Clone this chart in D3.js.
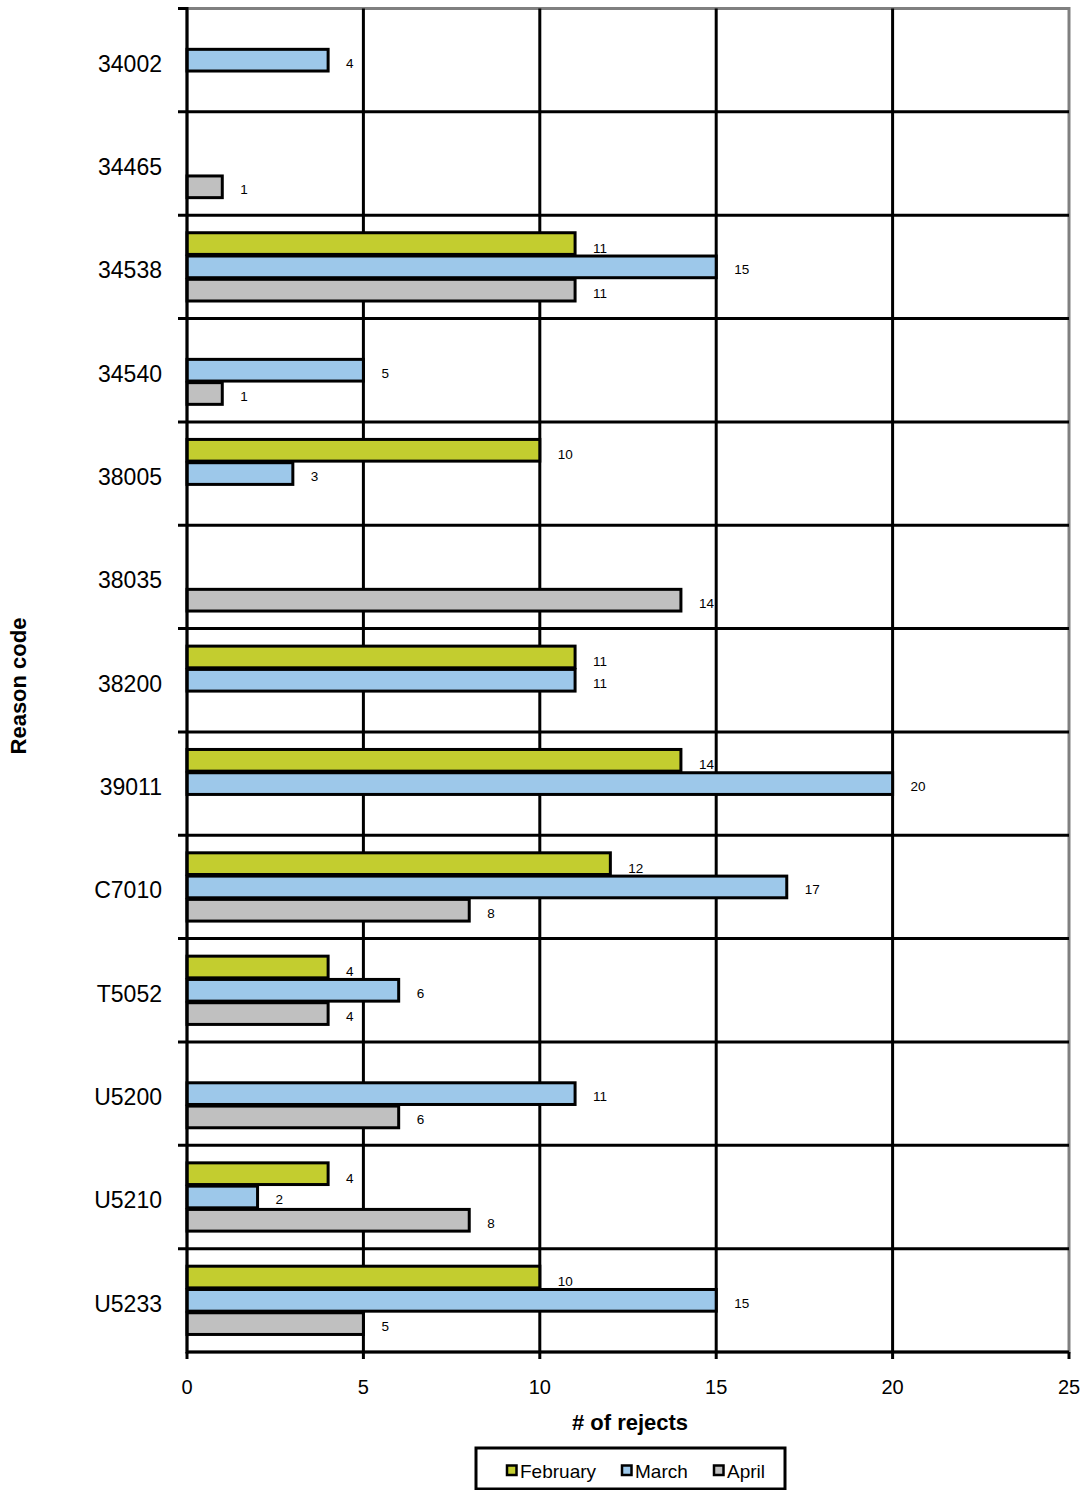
<!DOCTYPE html>
<html>
<head>
<meta charset="utf-8">
<script src="https://cdn.jsdelivr.net/npm/d3@7"></script>
<style>
  html, body { margin: 0; padding: 0; background: #fff; }
  svg { display: block; font-family: "Liberation Sans", Arial, sans-serif; }
</style>
</head>
<body>
<svg id="chart" width="1086" height="1490"></svg>
<script>
// Reject counts per reason code, by month (null = no rejects that month)
const categories = ["34002", "34465", "34538", "34540", "38005", "38035", "38200",
                    "39011", "C7010", "T5052", "U5200", "U5210", "U5233"];
const seriesNames = ["February", "March", "April"];
const february = [null, null, 11, null, 10, null, 11, 14, 12, 4, null, 4, 10];
const march    = [4, null, 15, 5, 3, null, 11, 20, 17, 6, 11, 2, 15];
const april    = [null, 1, 11, 1, null, 14, null, null, 8, 4, 6, 8, 5];
const xTicks = [0, 5, 10, 15, 20, 25];
const colors = ["#C3CD2F", "#9DC8EA", "#C0C0C0"];

const seriesValues = [february, march, april];

const svg = d3.select("#chart");
const plotLeft = 187, plotRight = 1069, plotTop = 8.5, plotBottom = 1352;

const x = d3.scaleLinear().domain([0, 25]).range([plotLeft, plotRight]);
const y = d3.scaleBand().domain(categories).range([plotTop, plotBottom]).padding(0);
const bw = y.bandwidth();
const inner = d3.scaleBand().domain(seriesNames)
  .range([bw * 0.162, bw * 0.838]).padding(0);

// Plot frame (grey)
svg.append("rect")
  .attr("x", plotLeft).attr("y", plotTop)
  .attr("width", plotRight - plotLeft).attr("height", plotBottom - plotTop)
  .attr("fill", "none").attr("stroke", "#808080").attr("stroke-width", 3);

// Vertical gridlines
svg.append("g").selectAll("line")
  .data(xTicks.filter(t => t > 0 && t < 25))
  .join("line")
  .attr("x1", d => x(d)).attr("x2", d => x(d))
  .attr("y1", plotTop).attr("y2", plotBottom)
  .attr("stroke", "#000").attr("stroke-width", 3);

// Horizontal gridlines at category boundaries (with tick stubs on the left)
const boundaries = categories.map(c => y(c)).slice(1);
svg.append("g").selectAll("line")
  .data(boundaries)
  .join("line")
  .attr("x1", plotLeft - 9).attr("x2", plotRight)
  .attr("y1", d => d).attr("y2", d => d)
  .attr("stroke", "#000").attr("stroke-width", 3);

// Top tick stub
svg.append("line")
  .attr("x1", plotLeft - 9).attr("x2", plotLeft)
  .attr("y1", plotTop).attr("y2", plotTop)
  .attr("stroke", "#000").attr("stroke-width", 3);

// Bars
const barData = [];
categories.forEach((c, i) => {
  seriesNames.forEach((s, j) => {
    const v = seriesValues[j][i];
    if (v != null) barData.push({ c, s, v, j });
  });
});

const barH = inner.bandwidth();
svg.append("g").selectAll("rect")
  .data(barData)
  .join("rect")
  .attr("x", x(0))
  .attr("y", d => y(d.c) + inner(d.s) + 0.8)
  .attr("width", d => x(d.v) - x(0))
  .attr("height", barH - 1.6)
  .attr("fill", d => colors[d.j])
  .attr("stroke", "#000").attr("stroke-width", 3);

// Value labels
svg.append("g").selectAll("text")
  .data(barData)
  .join("text")
  .attr("x", d => x(d.v) + 18)
  .attr("y", d => y(d.c) + inner(d.s) + barH / 2 + (d.j === 0 ? 9 : 7.5))
  .attr("font-size", 13.5)
  .attr("fill", "#000")
  .text(d => d.v);

// Y axis line
svg.append("line")
  .attr("x1", plotLeft).attr("x2", plotLeft)
  .attr("y1", plotTop - 1.5).attr("y2", plotBottom + 1.5)
  .attr("stroke", "#000").attr("stroke-width", 3);

// X axis line and ticks
svg.append("line")
  .attr("x1", plotLeft).attr("x2", plotRight)
  .attr("y1", plotBottom).attr("y2", plotBottom)
  .attr("stroke", "#000").attr("stroke-width", 3);
svg.append("g").selectAll("line")
  .data(xTicks)
  .join("line")
  .attr("x1", d => x(d)).attr("x2", d => x(d))
  .attr("y1", plotBottom).attr("y2", plotBottom + 7)
  .attr("stroke", "#000").attr("stroke-width", 3);

// X tick labels
svg.append("g").selectAll("text")
  .data(xTicks)
  .join("text")
  .attr("x", d => x(d))
  .attr("y", plotBottom + 42)
  .attr("text-anchor", "middle")
  .attr("font-size", 20)
  .text(d => d);

// Category labels
svg.append("g").selectAll("text")
  .data(categories)
  .join("text")
  .attr("x", 162)
  .attr("y", d => y(d) + bw / 2 + 11.5)
  .attr("text-anchor", "end")
  .attr("font-size", 23)
  .text(d => d);

// Axis titles
svg.append("text")
  .attr("x", 630).attr("y", 1430)
  .attr("text-anchor", "middle")
  .attr("font-size", 22).attr("font-weight", "bold")
  .text("# of rejects");
svg.append("text")
  .attr("transform", "translate(26,686) rotate(-90)")
  .attr("text-anchor", "middle")
  .attr("font-size", 22).attr("font-weight", "bold")
  .text("Reason code");

// Legend
const legend = svg.append("g");
legend.append("rect")
  .attr("x", 476).attr("y", 1448)
  .attr("width", 309).attr("height", 41)
  .attr("fill", "#fff").attr("stroke", "#000").attr("stroke-width", 3);
const legendX = [507, 622, 714];
seriesNames.forEach((s, j) => {
  legend.append("rect")
    .attr("x", legendX[j]).attr("y", 1465.5)
    .attr("width", 9.5).attr("height", 9.5)
    .attr("fill", colors[j]).attr("stroke", "#000").attr("stroke-width", 2.5);
  legend.append("text")
    .attr("x", legendX[j] + 13).attr("y", 1478)
    .attr("font-size", 19)
    .text(s);
});
</script>
</body>
</html>
